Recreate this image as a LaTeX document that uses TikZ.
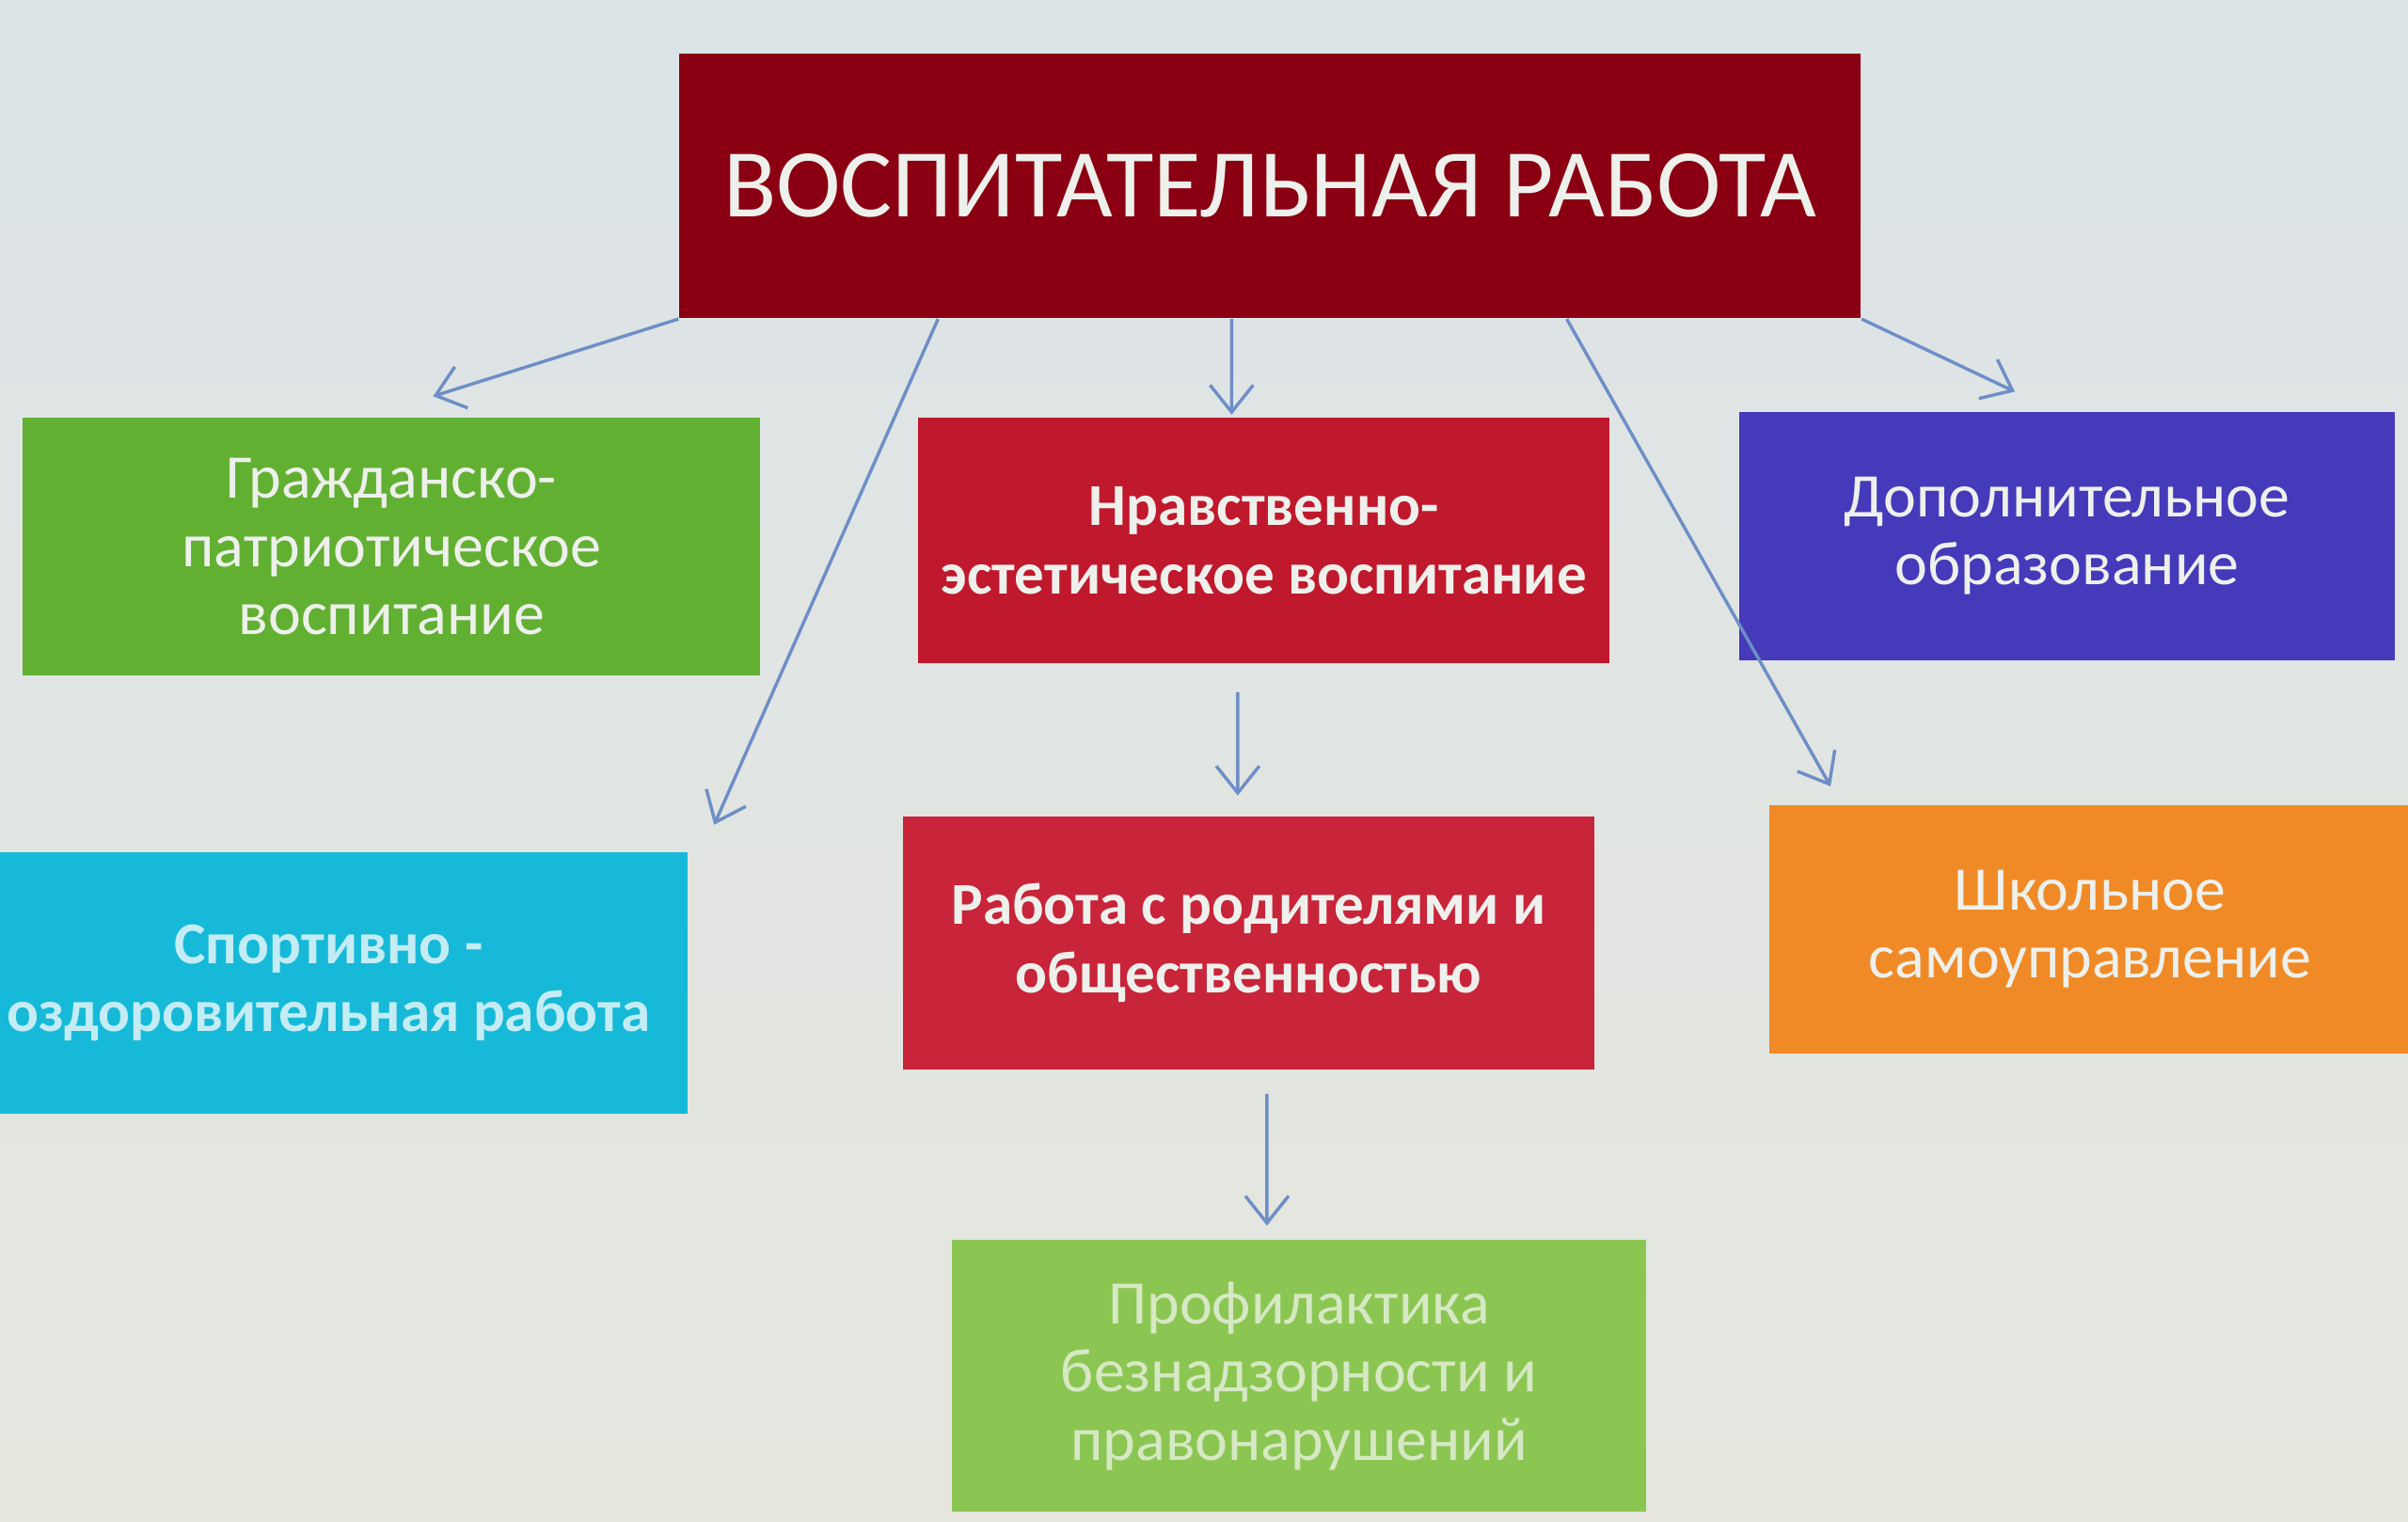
\documentclass[tikz,border=0pt]{standalone}
\usepackage{fontspec}
\setmainfont{Carlito}
\usetikzlibrary{arrows.meta}

\definecolor{bgtop}{RGB}{220,228,231}
\definecolor{bgbot}{RGB}{230,230,222}
\definecolor{titlered}{RGB}{138,0,18}
\definecolor{civgreen}{RGB}{98,176,50}
\definecolor{moralred}{RGB}{192,24,44}
\definecolor{extrablue}{RGB}{68,58,186}
\definecolor{sportcyan}{RGB}{22,186,216}
\definecolor{parentred}{RGB}{200,36,58}
\definecolor{selforange}{RGB}{240,138,38}
\definecolor{prevgreen}{RGB}{140,198,82}
\definecolor{linkblue}{RGB}{110,142,198}
\definecolor{paletext}{RGB}{238,240,236}
\definecolor{fainttext}{RGB}{214,232,196}
\definecolor{sporttext}{RGB}{196,236,244}

\begin{document}
\begin{tikzpicture}[x=0.1mm,y=-0.1mm,
        block/.style={draw=none, inner sep=0pt, align=center, text=paletext,
            font=\fontsize{11.5}{12.6}\selectfont},
        heavy/.style={block, font=\fontsize{11}{12.6}\selectfont\bfseries},
        link/.style={draw=linkblue, line width=0.6pt, -{Straight Barb[length=5pt,width=8pt]}}]
                \clip (0,0) rectangle (1568,991);
                \shade[top color=bgtop, bottom color=bgbot] (0,0) rectangle (1568,991);

                % main box
                \node[block, fill=titlered, minimum width=7.69cm, minimum height=1.72cm,
                    font=\fontsize{18}{22}\selectfont] (main) at (827,121) {ВОСПИТАТЕЛЬНАЯ РАБОТА};

                % first row
                \node[block, fill=civgreen, minimum width=4.8cm, minimum height=1.68cm] (civic) at (255,356)
                    {Гражданско-\\патриотическое\\воспитание};
                \node[heavy, fill=moralred, minimum width=4.5cm, minimum height=1.6cm] (moral) at (823,352)
                    {Нравственно-\\эстетическое воспитание};
                \node[block, fill=extrablue, minimum width=4.27cm, minimum height=1.62cm] (extra) at (1346,349)
                    {Дополнительное\\образование};

                % second row
                \node[heavy, fill=sportcyan, text=sporttext, minimum width=4.68cm, minimum height=1.7cm] (sport) at (214,640)
                    {Спортивно -\\оздоровительная работа};
                \node[heavy, fill=parentred, minimum width=4.5cm, minimum height=1.65cm] (parent) at (813,614)
                    {Работа с родителями и\\общественностью};
                \node[block, fill=selforange, minimum width=4.18cm, minimum height=1.62cm] (selfgov) at (1361,605)
                    {Школьное\\самоуправление};

                % third row
                \node[block, fill=prevgreen, text=fainttext, minimum width=4.52cm, minimum height=1.77cm] (prevent) at (846,896)
                    {Профилактика\\безнадзорности и\\правонарушений};

                % arrow ends
                \coordinate (toCivic) at (282,258);
                \coordinate (toSport) at (465,537);
                \coordinate (toMoral) at (802,270);
                \coordinate (toSelf) at (1192,512);
                \coordinate (toExtra) at (1312,255);
                \coordinate (toParent) at (806,518);
                \coordinate (toPrevent) at (825,798);

                \draw[link] (main.south west) -- (toCivic);
                \draw[link] ([xshift=1.69cm]main.south west) -- (toSport);
                \draw[link] ([xshift=-0.25cm]main.south) -- (toMoral);
                \draw[link] ([xshift=-1.92cm]main.south east) -- (toSelf);
                \draw[link] (main.south east) -- (toExtra);
                \draw[link] ([xshift=-0.17cm,yshift=-0.18cm]moral.south) -- (toParent);
                \draw[link] ([xshift=0.12cm,yshift=-0.15cm]parent.south) -- (toPrevent);
            \end{tikzpicture}
\end{document}
